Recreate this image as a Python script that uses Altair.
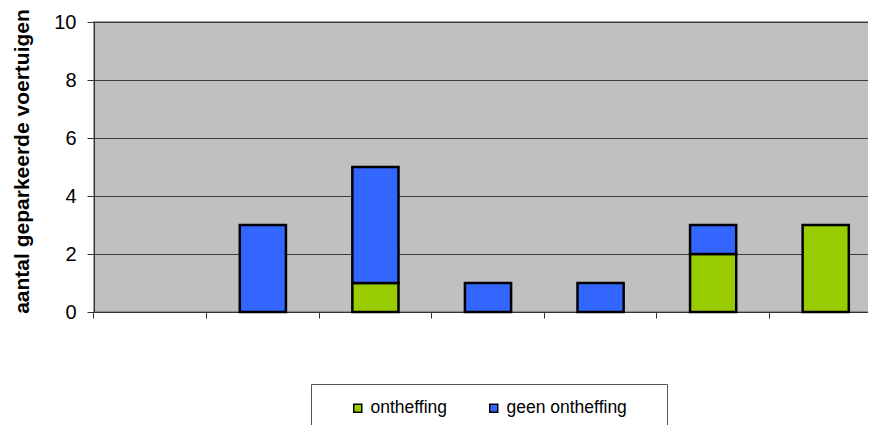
import altair as alt
import pandas as pd

categories = ["1", "2", "3", "4", "5", "6", "7"]
series = ["ontheffing", "geen ontheffing"]
ontheffing = [0, 0, 1, 0, 0, 2, 3]
geen_ontheffing = [0, 3, 4, 1, 1, 1, 0]
colors = ["#99CC00", "#3366FF"]
y_ticks = [0, 2, 4, 6, 8, 10]

rows = []
for i, c in enumerate(categories):
    rows.append({"cat": c, "serie": series[0], "value": ontheffing[i], "ord": 0})
    rows.append({"cat": c, "serie": series[1], "value": geen_ontheffing[i], "ord": 1})
df = pd.DataFrame(rows)

FONT = "Liberation Sans"
P_INNER = 0.59
P_OUTER = P_INNER / 2

chart = alt.Chart(df).mark_bar(stroke="black", strokeWidth=2.5).encode(
    x=alt.X("cat:N", sort=categories,
            scale=alt.Scale(domain=categories, paddingInner=P_INNER, paddingOuter=P_OUTER),
            axis=alt.Axis(labels=False, title=None,
                          bandPosition=-P_OUTER / (1 - P_INNER), ticks=True,
                          tickSize=6, tickColor="#333333", domainColor="#333333",
                          domainWidth=1, grid=False)),
    y=alt.Y("value:Q", stack="zero",
            scale=alt.Scale(domain=[0, 10], nice=False),
            axis=alt.Axis(values=y_ticks, title="aantal geparkeerde voertuigen",
                          titleFont=FONT, titleFontSize=21, titleFontWeight="bold",
                          titleColor="black", titleX=-72, titleY=139,
                          titleAngle=270, titleAlign="center", titleBaseline="middle",
                          labelFont=FONT, labelFontSize=20, labelColor="black",
                          labelPadding=11, tickSize=7, tickColor="#333333",
                          domainColor="#333333", grid=True, gridColor="#3c3c3c",
                          gridWidth=1)),
    color=alt.Color("serie:N", scale=alt.Scale(domain=series, range=colors),
                    legend=alt.Legend(title="\u00a0", titleOrient="right", titlePadding=25,
                                      titleFontSize=10,
                                      orient="none", legendX=217, legendY=362,
                                      direction="horizontal", fillColor="white",
                                      strokeColor="#555555", padding=15,
                                      symbolType="square", symbolSize=64,
                                      symbolStrokeColor="black", symbolStrokeWidth=1.5,
                                      labelFont=FONT, labelFontSize=17.5, labelColor="black",
                                      labelOffset=4, columnPadding=14, symbolOffset=23)),
    order=alt.Order("ord:Q"),
).transform_filter(
    "datum.value > 0"
).properties(
    width=788,
    height=290,
    autosize=alt.AutoSizeParams(type="none"),
    padding={"left": 86, "top": 14, "right": -14, "bottom": 113},
).configure(
    background="white",
    view=alt.ViewConfig(fill="#C0C0C0", stroke="#808080", strokeWidth=1.5),
)

chart.save("out.html", embed_options={"renderer": "svg", "actions": False})
